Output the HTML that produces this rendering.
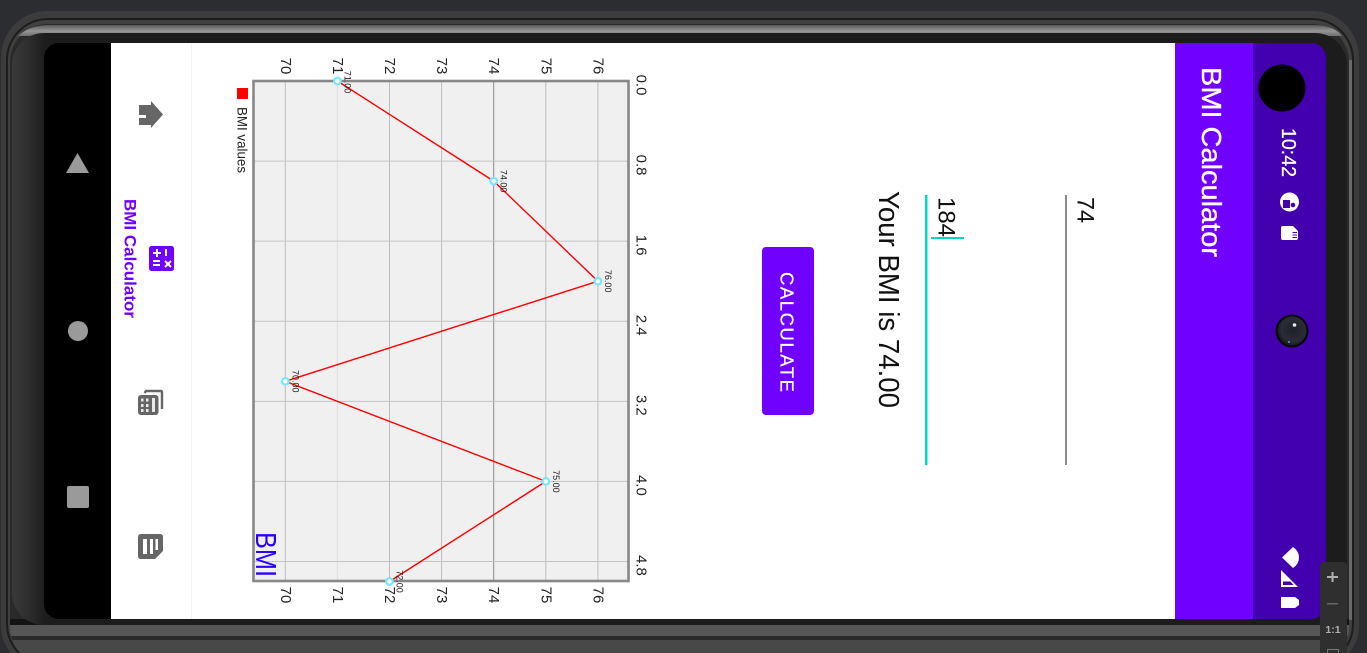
<!DOCTYPE html>
<html lang="en">
<head>
<meta charset="utf-8">
<title>BMI Calculator</title>
<style>
html,body{margin:0;padding:0;width:1367px;height:653px;overflow:hidden;background:#2b2d30}
svg{display:block;font-family:"Liberation Sans",sans-serif}
</style>
</head>
<body>
<svg id="stage" width="1367" height="653" viewBox="0 0 1367 653">
  <defs>
    <clipPath id="screen-clip"><rect x="44" y="43" width="1282" height="576" rx="15"/></clipPath>
    <clipPath id="body-clip"><rect x="10" y="25" width="1339" height="640" rx="38"/></clipPath>
    <linearGradient id="top-band" x1="0" y1="0" x2="0" y2="1">
      <stop offset="0" stop-color="#5a5a5a"/><stop offset="0.55" stop-color="#969696"/><stop offset="1" stop-color="#6e6e6e"/>
    </linearGradient>
    <linearGradient id="inner-bezel" x1="0" y1="0" x2="1" y2="0">
      <stop offset="0" stop-color="#3a3a3a"/><stop offset="0.012" stop-color="#2e2e2e"/><stop offset="0.025" stop-color="#1c1c1c"/><stop offset="1" stop-color="#1c1c1c"/>
    </linearGradient>
    <radialGradient id="lens-glass" cx="0.55" cy="0.45" r="0.6">
      <stop offset="0" stop-color="#1d2029"/><stop offset="0.7" stop-color="#2a2d36"/><stop offset="1" stop-color="#111"/>
    </radialGradient>
  </defs>

  <g>
    <rect x="1" y="11" width="1358" height="660" rx="46" fill="#3c3c3d"/>
    <rect x="6" y="18" width="1348" height="648" rx="42" fill="#1d1d1d"/>
    <rect x="8" y="20" width="1344" height="644" rx="40" fill="#404040"/>
    <rect x="10" y="24" width="1339" height="640" rx="38" fill="#2a2a2a"/>
    <path d="M18 36Q30 25 50 25H1312Q1334 25 1342 36Z" fill="url(#top-band)"/>
    <g clip-path="url(#body-clip)">
      <rect x="10" y="619" width="1339" height="6" fill="#141414"/>
      <rect x="10" y="625" width="1339" height="11" fill="#565656"/>
      <rect x="10" y="636" width="1339" height="4" fill="#2a2a2a"/>
      <rect x="10" y="640" width="1339" height="13" fill="#484848"/>
    </g>
    <rect x="1349" y="60" width="3" height="560" fill="#6a6a6a"/>
    <rect x="12" y="33" width="1335" height="592" rx="32" fill="url(#inner-bezel)"/>
  </g>

  <g clip-path="url(#screen-clip)">
    <rect x="44" y="43" width="67" height="576" fill="#000"/>
    <rect x="111" y="43" width="1064" height="576" fill="#fff"/>
    <rect x="1175" y="43" width="78" height="576" fill="#7000ff"/>
    <rect x="1253" y="43" width="73" height="576" fill="#4300ae"/>
    <rect x="191" y="43" width="1" height="576" fill="#f3f3f3"/>
  </g>

  <polygon points="66,173 89,173 77.500,153" fill="#9a9a9a"/>
  <circle cx="78" cy="331" r="10" fill="#9a9a9a"/>
  <rect x="67" y="486" width="22" height="22" rx="2" fill="#9a9a9a"/>

  <path d="M139 105H151V101L163 114.500L151 128V125H139V118H146V115H139Z" fill="#666"/>
  <g>
    <rect x="149" y="246" width="25" height="25" rx="2.500" fill="#7000ff"/>
    <path d="M153 253H161M157 249V257M166 249V256M153 261H160M153 265H160M165 261L171 267M171 261L165 267" stroke="#fff" stroke-width="2" fill="none"/>
  </g>
  <text x="124.500" y="199" transform="rotate(90 124.500 199)" font-size="17" font-weight="700" fill="#7000ff" textLength="119" lengthAdjust="spacingAndGlyphs">BMI Calculator</text>
  <g>
    <path d="M144.500 393L146 391H160.500Q162 391 162 392.500V409" fill="none" stroke="#666" stroke-width="2.400"/>
    <rect x="138" y="395" width="20.500" height="20" rx="3" fill="#666"/>
    <path d="M141 398.500H143.500V401.500H141ZM146 398.500H148.500V401.500H146ZM141 404H143.500V407H141ZM146 404H148.500V407H146ZM141 409H143.500V412H141ZM146 409H148.500V412H146ZM152 398H155V412H152Z" fill="#e8e8e8"/>
  </g>
  <g>
    <path d="M141 534H160Q163 534 163 537V551L155 559H141Q138 559 138 556V537Q138 534 141 534Z" fill="#666"/>
    <path d="M143 539H147V554H143ZM150 539H153V554H150ZM155.500 539H158V550H155.500Z" fill="#fff"/>
  </g>

  <g id="chart"></g>

  <g>
    <text x="1077.500" y="197" transform="rotate(90 1077.500 197)" font-size="24" fill="#111" textLength="26" lengthAdjust="spacingAndGlyphs">74</text>
    <rect x="1065" y="195" width="2" height="270" fill="#8a8a8a"/>
  </g>
  <g>
    <text x="938.500" y="197" transform="rotate(90 938.500 197)" font-size="24" fill="#111" textLength="40" lengthAdjust="spacingAndGlyphs">184</text>
    <rect x="925" y="195" width="2.500" height="270" fill="#00d8c4"/>
    <rect x="931" y="237" width="33" height="2" fill="#00d8c4"/>
  </g>
  <text x="879" y="191" transform="rotate(90 879 191)" font-size="29" fill="#111" textLength="217" lengthAdjust="spacingAndGlyphs">Your BMI is 74.00</text>
  <g>
    <rect x="762" y="247" width="52" height="168" rx="4" fill="#7000ff"/>
    <text x="780.500" y="272" transform="rotate(90 780.500 272)" font-size="18.500" fill="#fff" stroke="#fff" stroke-width="0.250" textLength="120" lengthAdjust="spacing">CALCULATE</text>
  </g>

  <text x="1202" y="67" transform="rotate(90 1202 67)" font-size="28" fill="#fff" stroke="#fff" stroke-width="0.350" textLength="190" lengthAdjust="spacingAndGlyphs">BMI Calculator</text>

  <circle cx="1282" cy="88" r="23.500" fill="#000"/>
  <text x="1282" y="128" transform="rotate(90 1282 128)" font-size="20" fill="#fff" stroke="#fff" stroke-width="0.250" textLength="49" lengthAdjust="spacingAndGlyphs">10:42</text>
  <g>
    <circle cx="1289.500" cy="202" r="9.500" fill="#fff"/>
    <path d="M1283 200H1290V208H1283Z" fill="#4300ae"/>
    <circle cx="1293" cy="205" r="2.300" fill="#4300ae"/>
  </g>
  <path d="M1281 228Q1281 226 1283 226H1293L1298 231V238Q1298 240 1296 240H1283Q1281 240 1281 238Z" fill="#fff"/>
  <path d="M1292.500 232.500H1297M1292.500 235H1297M1292.500 237.500H1297" stroke="#4300ae" stroke-width="1"/>
  <g>
    <circle cx="1292" cy="331" r="16.500" fill="#08080b"/>
    <circle cx="1292" cy="331" r="14.500" fill="url(#lens-glass)"/>
    <circle cx="1294.500" cy="325" r="1.800" fill="#e6e6e6"/>
    <circle cx="1289" cy="342" r="1" fill="#4aa4d8"/>
  </g>
  <path d="M1282 557.500L1293 547Q1299 551 1299 557.500Q1299 564 1293 568Z" fill="#fff"/>
  <path d="M1281 570L1298 587H1281Z" fill="#fff"/>
  <path d="M1283 581.500H1290.500L1293.500 585H1283Z" fill="#4300ae"/>
  <path d="M1281 597H1295L1299 600V605L1295 608H1281Z" fill="#fff"/>

  <g>
    <rect x="1320" y="562" width="27" height="100" rx="4" fill="#2f2f2f"/>
    <rect x="1327" y="576" width="11" height="2" fill="#b0b0b0"/>
    <rect x="1331.500" y="572" width="2" height="10" fill="#b0b0b0"/>
    <rect x="1327" y="603" width="11" height="1.500" fill="#666"/>
    <text x="1333" y="633" text-anchor="middle" font-size="10.500" font-weight="700" fill="#b0b0b0">1:1</text>
    <rect x="1327.500" y="649.500" width="11" height="8" fill="none" stroke="#777"/>
  </g>
</svg>

<script>
const categoryTicks = ["0.0", "0.8", "1.6", "2.4", "3.2", "4.0", "4.8"];
const valueTicks = [70, 71, 72, 73, 74, 75, 76];
const bmiIndex = [0, 1, 2, 3, 4, 5];
const bmiValues = [71, 74, 76, 70, 75, 72];

const NS = "http://www.w3.org/2000/svg";
const chart = document.getElementById("chart");

// Axis functions: the chart is rotated 90 degrees on screen.
function valueToX(v) { return 285.3 + (v - 70) * 52.1; }
function indexToY(i) { return 81 + i * 100.1; }

function make(tag, attrs) {
  const el = document.createElementNS(NS, tag);
  for (const k in attrs) el.setAttribute(k, attrs[k]);
  chart.appendChild(el);
  return el;
}
function rotatedText(cx, cy, str, size, fill) {
  const el = make("text", {
    x: cx, y: cy, "font-size": size, fill: fill,
    "text-anchor": "middle", "dominant-baseline": "central",
    transform: "rotate(90 " + cx + " " + cy + ")"
  });
  el.textContent = str;
  return el;
}

const plotBg = make("rect", { x: 253.5, y: 81, width: 375, height: 500, fill: "#f0f0f0" });



valueTicks.forEach(function (t) {
  const x = valueToX(t);
  const stroke = t === 74 ? "#8a8a8a" : (t === 71 ? "#dedede" : "#bdbdbd");
  const line = make("line", { x1: x, x2: x, y1: 81, y2: 581, stroke: stroke, "stroke-width": 1 });
  
  
  const top = rotatedText(x, 66, String(t), 15, "#222");
  
  
  const bottom = rotatedText(x, 595, String(t), 15, "#222");
  
  
});

categoryTicks.forEach(function (t) {
  const y = indexToY(parseFloat(t));
  if (parseFloat(t) > 0) {
    const line = make("line", { x1: 253.5, x2: 628.5, y1: y, y2: y, stroke: "#c4c4c4", "stroke-width": 1 });
    
    
  }
  const label = rotatedText(641, y + 4, t, 15, "#222");
  
  
});

const plotBorder = make("rect", { x: 253.5, y: 81, width: 375, height: 500, fill: "none", stroke: "#888", "stroke-width": 2.6 });



const points = bmiValues.map(function (v, i) { return valueToX(v) + "," + indexToY(bmiIndex[i]); }).join(" ");
const series = make("polyline", { points: points, fill: "none", stroke: "#ff0000", "stroke-width": 1.4 });



bmiValues.forEach(function (v, i) {
  const x = valueToX(v);
  const y = indexToY(bmiIndex[i]);
  const dot = make("circle", { cx: x, cy: y, r: 3.3, fill: "#fff", stroke: "#74e8ff", "stroke-width": 2.2 });
  
  
  const label = rotatedText(x + 10, i === 0 ? y + 1 : y, v.toFixed(2), 9, "#222");
  
  
});

const legendSwatch = make("rect", { x: 237, y: 88, width: 11, height: 11, fill: "#ff0000" });


const legendText = make("text", { x: 237.5, y: 107, "font-size": 14, fill: "#222", textLength: 66, lengthAdjust: "spacingAndGlyphs", transform: "rotate(90 237.5 107)" });
legendText.textContent = "BMI values";



const chartTitle = make("text", { x: 256, y: 532, "font-size": 29, fill: "#2a00ff", textLength: 45, lengthAdjust: "spacingAndGlyphs", transform: "rotate(90 256 532)" });
chartTitle.textContent = "BMI";


</script>
</body>
</html>
